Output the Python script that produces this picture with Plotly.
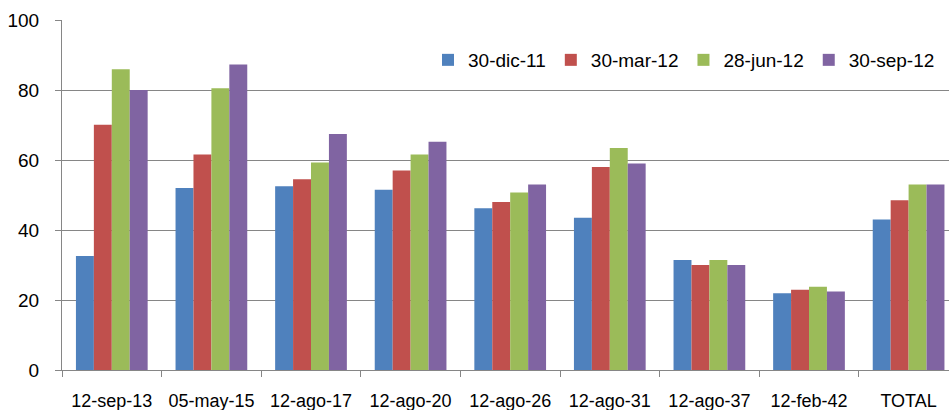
import plotly.graph_objects as go

categories = ["12-sep-13", "05-may-15", "12-ago-17", "12-ago-20", "12-ago-26",
              "12-ago-31", "12-ago-37", "12-feb-42", "TOTAL"]
series_names = ["30-dic-11", "30-mar-12", "28-jun-12", "30-sep-12"]
s_dic11 = [32.6, 52.0, 52.5, 51.5, 46.2, 43.5, 31.4, 21.9, 43.0]
s_mar12 = [70.1, 61.6, 54.5, 57.0, 48.0, 58.0, 30.0, 22.9, 48.5]
s_jun12 = [85.9, 80.5, 59.3, 61.6, 50.7, 63.4, 31.4, 23.8, 53.0]
s_sep12 = [80.0, 87.3, 67.4, 65.2, 53.0, 59.0, 30.0, 22.4, 53.0]
y_ticks = [0, 20, 40, 60, 80, 100]

colors = ["#4F81BD", "#C0504D", "#9BBB59", "#8064A2"]
values = [s_dic11, s_mar12, s_jun12, s_sep12]

fig = go.Figure()
for name, vals, col in zip(series_names, values, colors):
    fig.add_trace(go.Bar(x=categories, y=vals, name=name,
                         marker=dict(color=col, line=dict(width=0))))

W, H = 949, 410
ml, mt, mb = 62, 20, 40
cat_px = 99.6
span = (W - ml) / cat_px

axis_col = "#868686"
fam = "Liberation Sans, Arial, sans-serif"
xfont = dict(family=fam, size=18, color="#000000")
yfont = dict(family=fam, size=19, color="#000000")
lfont = dict(family=fam, size=19, color="#000000")

fig.update_layout(
    width=W, height=H,
    margin=dict(l=ml, r=0, t=mt, b=mb),
    paper_bgcolor="white", plot_bgcolor="white",
    barmode="group", bargap=0.28, bargroupgap=0,
    font=xfont,
    legend=dict(orientation="h", x=(428 - ml) / (W - ml), xanchor="left",
                y=(370 - 60) / 350, yanchor="middle",
                font=lfont, bgcolor="rgba(0,0,0,0)", itemwidth=30,
                tracegroupgap=0),
    showlegend=True,
)
fig.update_xaxes(
    range=[-0.5, -0.5 + span], type="category",
    showline=True, linecolor=axis_col, linewidth=1,
    ticks="outside", ticklen=6, tickcolor=axis_col, tickson="boundaries",
    showgrid=False, ticklabelstandoff=14, tickfont=xfont,
)
fig.update_yaxes(
    range=[0, 100], tickvals=y_ticks,
    showline=True, linecolor=axis_col, linewidth=1,
    ticks="outside", ticklen=6, tickcolor=axis_col,
    showgrid=True, gridcolor=axis_col, gridwidth=1,
    zeroline=False, ticklabelstandoff=12, tickfont=yfont,
)

fig.write_html("out.html", config={"displayModeBar": False},
               post_script="document.body.style.margin='0';document.body.style.overflow='hidden';")
